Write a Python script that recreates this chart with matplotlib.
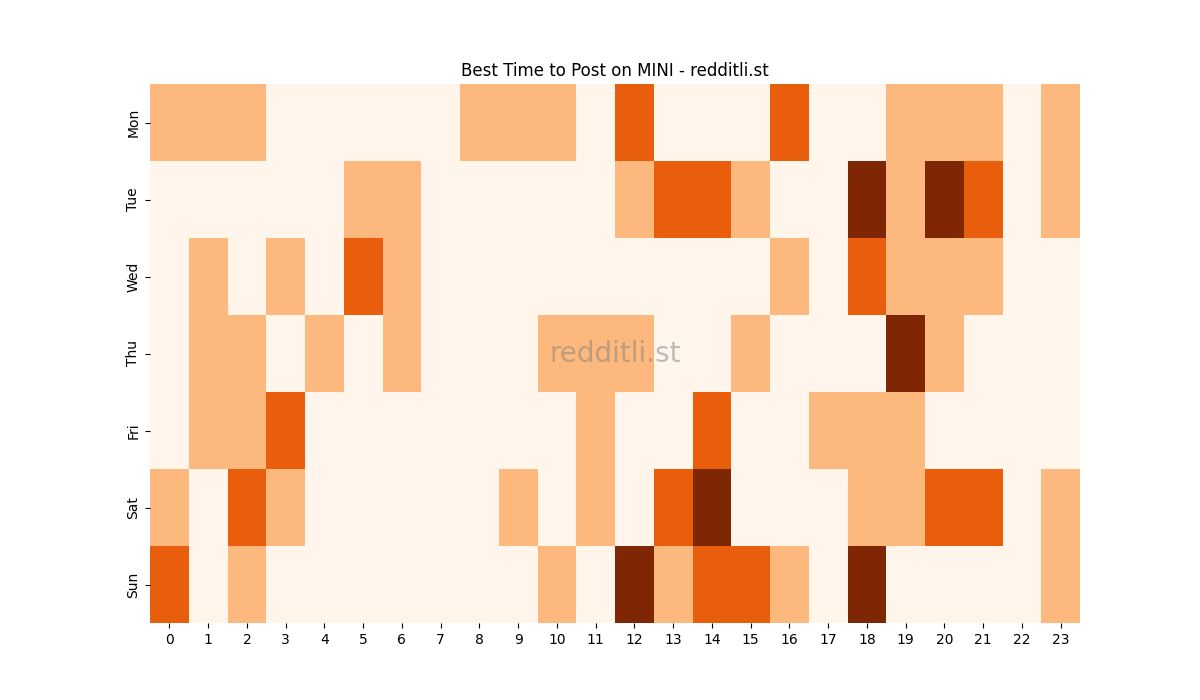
import numpy as np
import matplotlib
matplotlib.use("Agg")
import matplotlib.pyplot as plt
import seaborn as sns

days = ["Mon", "Tue", "Wed", "Thu", "Fri", "Sat", "Sun"]
hours = list(range(24))

mon = [1, 1, 1, 0, 0, 0, 0, 0, 1, 1, 1, 0, 2, 0, 0, 0, 2, 0, 0, 1, 1, 1, 0, 1]
tue = [0, 0, 0, 0, 0, 1, 1, 0, 0, 0, 0, 0, 1, 2, 2, 1, 0, 0, 3, 1, 3, 2, 0, 1]
wed = [0, 1, 0, 1, 0, 2, 1, 0, 0, 0, 0, 0, 0, 0, 0, 0, 1, 0, 2, 1, 1, 1, 0, 0]
thu = [0, 1, 1, 0, 1, 0, 1, 0, 0, 0, 1, 1, 1, 0, 0, 1, 0, 0, 0, 3, 1, 0, 0, 0]
fri = [0, 1, 1, 2, 0, 0, 0, 0, 0, 0, 0, 1, 0, 0, 2, 0, 0, 1, 1, 1, 0, 0, 0, 0]
sat = [1, 0, 2, 1, 0, 0, 0, 0, 0, 1, 0, 1, 0, 2, 3, 0, 0, 0, 1, 1, 2, 2, 0, 1]
sun = [2, 0, 1, 0, 0, 0, 0, 0, 0, 0, 1, 0, 3, 1, 2, 2, 1, 0, 3, 0, 0, 0, 0, 1]

grid = np.array([mon, tue, wed, thu, fri, sat, sun])

fig, ax = plt.subplots(figsize=(12, 7), dpi=100)
sns.heatmap(grid, cmap="Oranges", vmin=0, vmax=3, cbar=False,
            xticklabels=hours, yticklabels=days, ax=ax)
ax.set_title("Best Time to Post on MINI - redditli.st")
ax.tick_params(axis="y", rotation=90)
ax.tick_params(axis="x", rotation=0)
ax.text(0.5, 0.5, "redditli.st", transform=ax.transAxes, ha="center", va="center",
        fontsize=20, color="gray", alpha=0.5)
fig.savefig("out.png")
